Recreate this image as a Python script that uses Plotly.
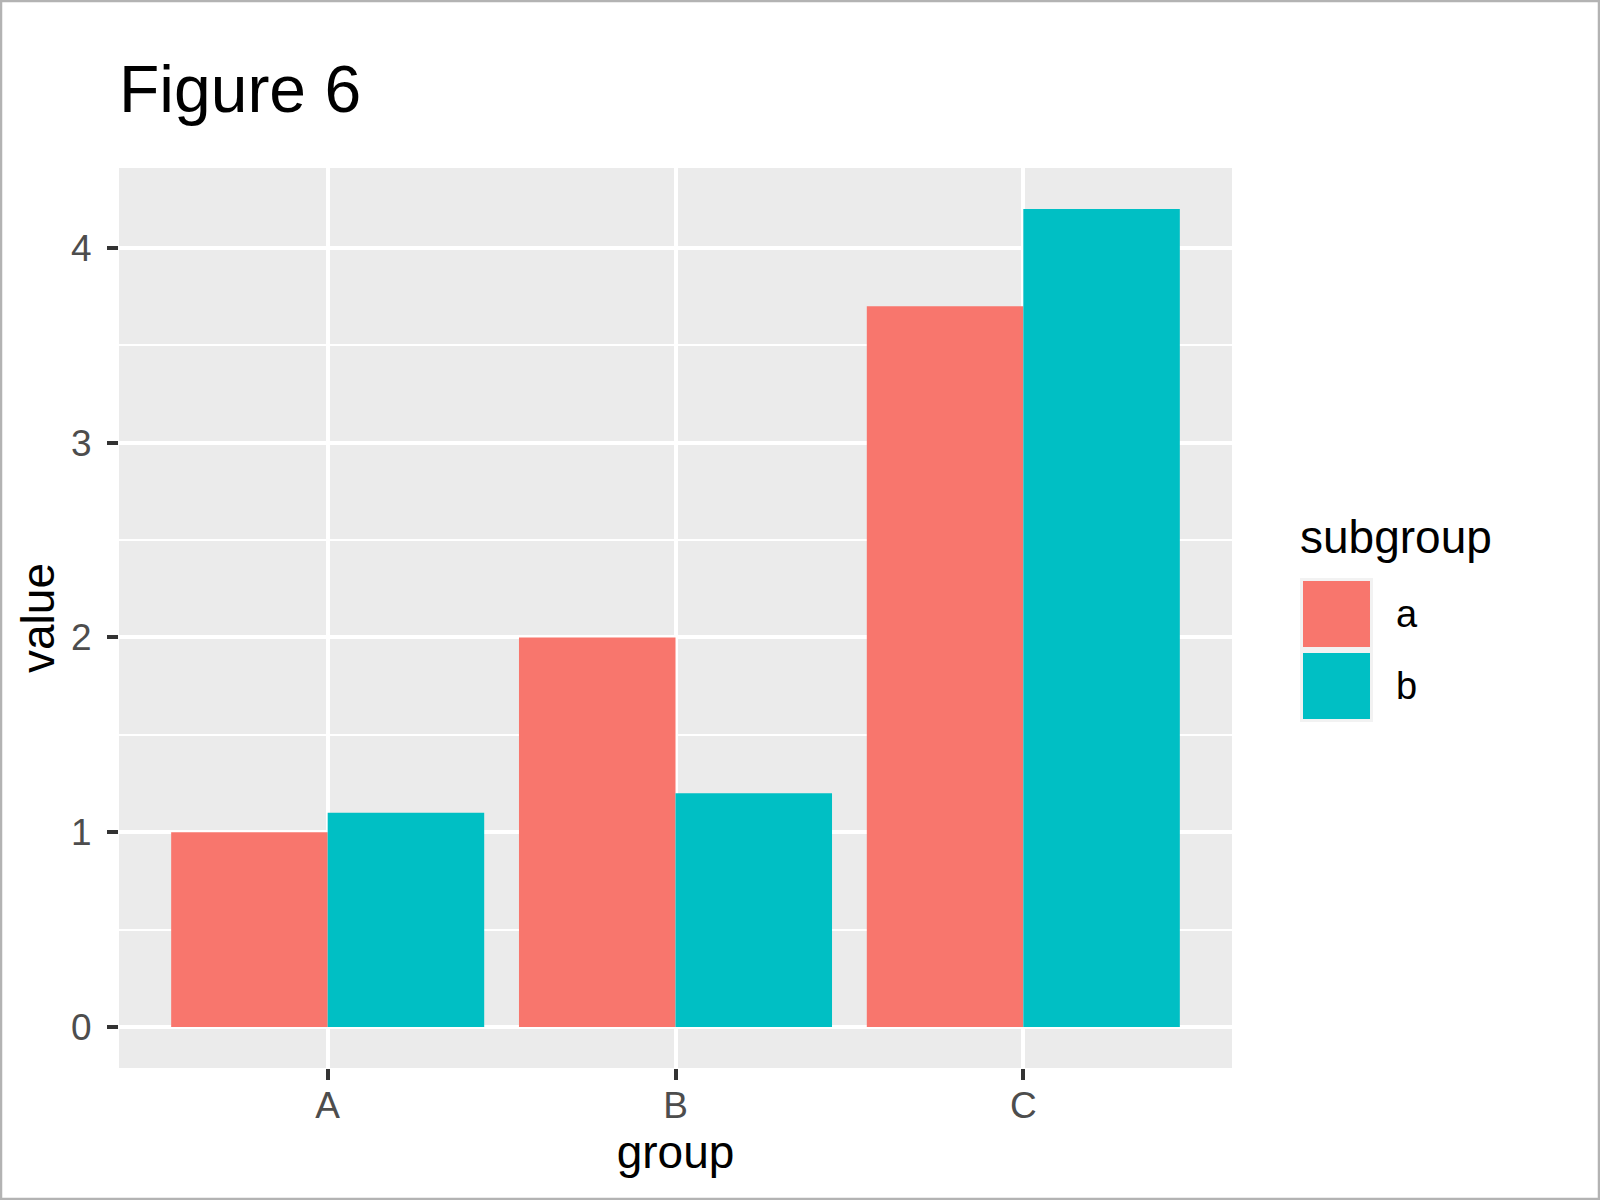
import plotly.graph_objects as go

groups = ["A", "B", "C"]
subgroups = ["a", "b"]
values_a = [1.0, 2.0, 3.7]
values_b = [1.1, 1.2, 4.2]
colors = ["#F8766D", "#00BFC4"]
y_ticks = [0, 1, 2, 3, 4]

W, H = 1600, 1200
L, R, T, B = 119, 1232, 168, 1068
PW, PH = R - L, B - T
FONT = "Liberation Sans, Arial, sans-serif"


def px(x):
    return (x - L) / PW


def py(y):
    return (B - y) / PH


fig = go.Figure()
for name, vals, col in zip(subgroups, [values_a, values_b], colors):
    fig.add_trace(go.Bar(x=groups, y=vals, name=name, marker=dict(color=col, line=dict(width=0)),
                         showlegend=False))

fig.update_layout(
    width=W, height=H,
    margin=dict(l=L, r=W - R, t=T, b=H - B, pad=0),
    paper_bgcolor="white", plot_bgcolor="#EBEBEB",
    barmode="group", bargap=0.1, bargroupgap=0,
    font=dict(family=FONT),
    title=dict(text="Figure 6", x=0, xanchor="left", xref="paper",
               y=1 - 89 / H, yref="container", yanchor="middle",
               font=dict(size=66, color="black", family=FONT)),
)

fig.update_xaxes(
    type="category", range=[-0.6, 2.6], showgrid=True, gridcolor="white", gridwidth=3.5,
    zeroline=False, showline=False,
    ticks="outside", ticklen=11, tickwidth=3.5, tickcolor="#333333",
    ticklabelstandoff=-6,
    tickfont=dict(size=37, color="#4D4D4D", family=FONT),
    title=dict(text="group", font=dict(size=46, color="black", family=FONT), standoff=5),
)
fig.update_yaxes(
    range=[-0.21, 4.41], tickvals=y_ticks, ticktext=[str(v) for v in y_ticks],
    showgrid=True, gridcolor="white", gridwidth=3.5, zeroline=False, showline=False,
    ticks="outside", ticklen=11, tickwidth=3.5, tickcolor="#333333",
    ticklabelstandoff=8,
    tickfont=dict(size=37, color="#4D4D4D", family=FONT),
    minor=dict(tickvals=[0.5, 1.5, 2.5, 3.5], showgrid=True, gridcolor="white", gridwidth=1.8, ticks=""),
    title=dict(text="value", font=dict(size=46, color="black", family=FONT), standoff=1),
)

# legend (drawn manually to match key size)
shapes = []
shapes.append(dict(type="rect", xref="paper", yref="paper", x0=px(1300), x1=px(1373), y0=py(722), y1=py(578),
                   fillcolor="#F2F2F2", line=dict(width=0), layer="above"))
key_tops = [581, 653]
for top, col in zip(key_tops, colors):
    shapes.append(dict(type="rect", xref="paper", yref="paper", x0=px(1303), x1=px(1370),
                       y0=py(top + 66), y1=py(top), fillcolor=col, line=dict(width=0), layer="above"))
# outer border
shapes.append(dict(type="rect", xref="paper", yref="paper", x0=px(1), x1=px(W - 1), y0=py(H - 1), y1=py(1),
                   fillcolor="rgba(0,0,0,0)", line=dict(color="#B3B3B3", width=2.5), layer="above"))
fig.update_layout(shapes=shapes)

annotations = [dict(text="subgroup", xref="paper", yref="paper", x=px(1298), y=py(537), xanchor="left",
                    yanchor="middle", showarrow=False, font=dict(size=46, color="black", family=FONT))]
for top, lab in zip(key_tops, subgroups):
    annotations.append(dict(text=lab, xref="paper", yref="paper", x=px(1394), y=py(top + 33), xanchor="left",
                            yanchor="middle", showarrow=False, font=dict(size=38, color="black", family=FONT)))
fig.update_layout(annotations=annotations)

fig.write_html("out.html", post_script="document.body.style.margin='0px';",
               config={"displayModeBar": False})
